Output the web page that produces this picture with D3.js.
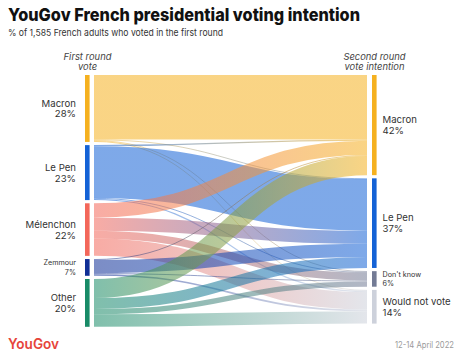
<!DOCTYPE html>
<html><head><meta charset="utf-8">
<script src="https://cdn.jsdelivr.net/npm/d3@7"></script>
<style>
body{margin:0;background:#fff}
svg{display:block}
text{font-family:Inter,"Noto Sans",sans-serif}
</style>
</head><body>
<svg id="c" width="462" height="357"></svg>
<script>
// ---- data ----
const sourceNames = ["Macron", "Le Pen", "Mélenchon", "Zemmour", "Other"];
const sourceLabels = ["28%", "23%", "22%", "7%", "20%"];
const targetNames = ["Macron", "Le Pen", "Don't know", "Would not vote"];
const targetLabels = ["42%", "37%", "6%", "14%"];
// flows (% of all respondents) from each first-round vote to second-round intention
const fromMacron    = [27.0, 0.3, 0.3, 0.4];
const fromLePen     = [0.5, 21.6, 0.4, 0.5];
const fromMelenchon = [6.0, 5.5, 3.2, 7.3];
const fromZemmour   = [0.4, 5.5, 0.4, 0.7];
const fromOther     = [8.0, 4.6, 2.2, 5.2];
const flowRows = [fromMacron, fromLePen, fromMelenchon, fromZemmour, fromOther];

const sourceColors = ["#f5b120", "#1462d6", "#f3675a", "#102f96", "#188b67"];
const targetColors = ["#f5b120", "#1462d6", "#737b95", "#cdd1db"];

// ---- layout ----
const svg = d3.select("#c");
const defs = svg.append("defs");
const yS = d3.scaleLinear().domain([0, 100]).range([0, 239]);
const topY = 75, gap = 3.2;
const xNodeL = 85, xNodeR = 372, nodeW = 4.6;
const xLinkL = 94, xLinkR = 367;

function stack(vals) {
  let acc = topY;
  return vals.map(v => { const n = {y0: acc, y1: acc + yS(v)}; acc = n.y1 + gap; return n; });
}
const srcTot = flowRows.map(r => d3.sum(r));
const tgtTot = targetNames.map((_, j) => d3.sum(flowRows, r => r[j]));
const srcNodes = stack(srcTot);
const tgtNodes = stack(tgtTot);

// link positions
const links = [];
const srcOff = srcNodes.map(n => n.y0);
const tgtOff = tgtNodes.map(n => n.y0);
flowRows.forEach((row, i) => row.forEach((v, j) => {
  links.push({i, j, v});
}));
// source side: ordered by target
links.slice().sort((a, b) => a.i - b.i || a.j - b.j).forEach(l => {
  l.sy = srcOff[l.i] + yS(l.v) / 2; srcOff[l.i] += yS(l.v);
});
// target side: ordered by source
links.slice().sort((a, b) => a.j - b.j || a.i - b.i).forEach(l => {
  l.ty = tgtOff[l.j] + yS(l.v) / 2; tgtOff[l.j] += yS(l.v);
});

const linkGen = d3.linkHorizontal();
const gL = svg.append("g");
links.forEach((l, k) => {
  const id = "g" + k;
  const gr = defs.append("linearGradient").attr("id", id)
    .attr("gradientUnits", "userSpaceOnUse")
    .attr("x1", xLinkL).attr("x2", xLinkR).attr("y1", 0).attr("y2", 0);
  gr.append("stop").attr("offset", "0%").attr("stop-color", sourceColors[l.i]);
  gr.append("stop").attr("offset", "100%").attr("stop-color", targetColors[l.j]);
  gL.append("path")
    .attr("d", linkGen({source: [xLinkL, l.sy], target: [xLinkR, l.ty]}))
    .attr("fill", "none")
    .attr("stroke", `url(#${id})`)
    .attr("stroke-opacity", 0.55)
    .attr("stroke-width", Math.max(0.8, yS(l.v)));
});

// nodes
svg.append("g").selectAll("rect").data(srcNodes).join("rect")
  .attr("x", xNodeL).attr("y", d => d.y0).attr("width", nodeW)
  .attr("height", d => d.y1 - d.y0).attr("fill", (d, i) => sourceColors[i]);
svg.append("g").selectAll("rect").data(tgtNodes).join("rect")
  .attr("x", xNodeR).attr("y", d => d.y0).attr("width", nodeW)
  .attr("height", d => d.y1 - d.y0).attr("fill", (d, i) => targetColors[i]);

function fit(sel, w) {
  const L = sel.node().getComputedTextLength();
  if (Math.abs(L - w) / w > 0.02) sel.attr("textLength", w).attr("lengthAdjust", "spacingAndGlyphs");
}

// node labels
srcNodes.forEach((n, i) => {
  const c = (n.y0 + n.y1) / 2;
  const small = n.y1 - n.y0 < 25;
  const fs = small ? 7.2 : 9.6;
  const g = svg.append("g").attr("fill", "#333").attr("font-size", fs).attr("text-anchor", "end");
  g.append("text").attr("x", 76).attr("y", c - (small ? 2.5 : 1.8)).text(sourceNames[i]);
  g.append("text").attr("x", 76).attr("y", c + (small ? 7.4 : 9)).text(sourceLabels[i]);
});
tgtNodes.forEach((n, i) => {
  const c = (n.y0 + n.y1) / 2;
  const small = n.y1 - n.y0 < 25;
  const fs = small ? 7.2 : 9.6;
  const g = svg.append("g").attr("fill", "#333").attr("font-size", fs).attr("text-anchor", "start");
  g.append("text").attr("x", 382.5).attr("y", c - (small ? 1.8 : 1.8)).text(targetNames[i]);
  g.append("text").attr("x", 382.5).attr("y", c + (small ? 6.6 : 9)).text(targetLabels[i]);
});

// column headers
const hdr = svg.append("g").attr("fill", "#444").attr("font-size", 9.4)
  .attr("font-style", "italic").attr("text-anchor", "middle");
hdr.append("text").attr("x", 87.5).attr("y", 59.5).text("First round");
hdr.append("text").attr("x", 87.5).attr("y", 70).text("vote");
hdr.append("text").attr("x", 374.5).attr("y", 59.5).text("Second round");
hdr.append("text").attr("x", 374.5).attr("y", 70).text("vote intention");

// title and subtitle
const title = svg.append("text").attr("x", 8).attr("y", 20.5)
  .attr("font-size", 18).attr("font-weight", 800).attr("fill", "#111")
  .text("YouGov French presidential voting intention");
fit(title, 352);
const sub = svg.append("text").attr("x", 8).attr("y", 36)
  .attr("font-size", 9.6).attr("fill", "#333")
  .text("% of 1,585 French adults who voted in the first round");
fit(sub, 215);

// footer
const logo = svg.append("text").attr("x", 8).attr("y", 348.5)
  .attr("font-size", 14).attr("font-weight", 600).attr("fill", "#e6453b")
  .text("YouGov");
fit(logo, 51);
const date = svg.append("text").attr("x", 454).attr("y", 348)
  .attr("font-size", 8.4).attr("fill", "#9a9a9a").attr("text-anchor", "end")
  .text("12-14 April 2022");
fit(date, 59);
</script>
</body></html>
